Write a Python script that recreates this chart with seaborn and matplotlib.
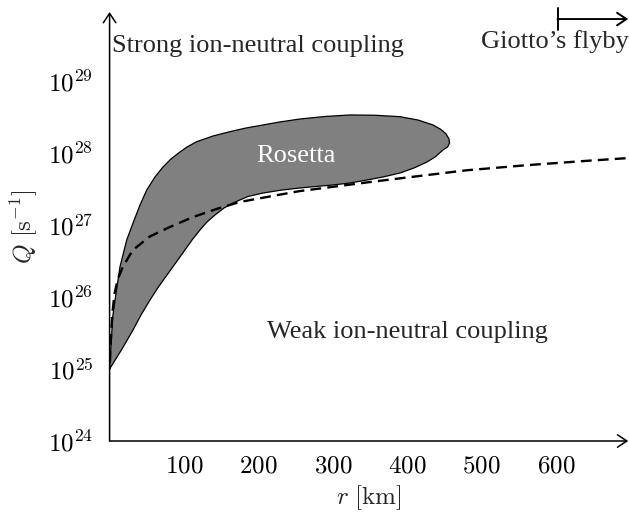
import numpy as np
import matplotlib
matplotlib.use("Agg")
import matplotlib.pyplot as plt
import seaborn as sns

# ---- data (r in km, log10 Q in s^-1) ----
upper_r = [0.0, 1.9, 4.2, 7.3, 14.0, 23.0, 31.5, 40.9, 49.9, 61.0, 71.8, 82.5,
           94.6, 104.0, 117.1, 139.0, 161.8, 183.3, 206.2, 229.0, 255.9,
           289.5, 323.1, 356.7, 390.3, 414.5, 434.7, 445.4, 452.2, 456.2,
           456.9]
upper_logq = [25.000, 25.333, 25.726, 25.958, 26.421, 26.792, 27.028, 27.278,
              27.486, 27.667, 27.806, 27.917, 28.014, 28.083, 28.157, 28.236,
              28.296, 28.347, 28.389, 28.431, 28.472, 28.507, 28.528, 28.524,
              28.504, 28.458, 28.389, 28.326, 28.264, 28.194, 28.139]
lower_r = [454.2, 448.1, 437.4, 426.6, 409.1, 390.3, 367.5, 346.0, 323.1,
           300.3, 277.4, 255.9, 231.7, 206.2, 186.0, 165.9, 153.8, 141.7,
           130.9, 121.5, 110.8, 101.3, 89.2, 77.2, 65.1, 54.3, 42.2, 31.5,
           16.7, 0.0]
lower_logq = [28.083, 28.042, 27.944, 27.875, 27.792, 27.722, 27.667, 27.625,
              27.583, 27.556, 27.535, 27.514, 27.486, 27.444, 27.396, 27.306,
              27.236, 27.139, 27.042, 26.931, 26.792, 26.653, 26.479, 26.306,
              26.132, 25.958, 25.750, 25.542, 25.278, 25.000]

dash_r = [0.5, 1.0, 2.2, 4.0, 6.7, 11.0, 17.9, 31.0, 54.0, 80.6, 112.0, 143.0,
          175.0, 228.0, 255.0, 300.0, 345.0, 400.0, 480.0, 560.0, 640.0, 698.0]
dash_logq = [25.10, 25.25, 25.50, 25.80, 26.05, 26.25, 26.42, 26.65, 26.84,
             26.97, 27.11, 27.22, 27.32, 27.42, 27.47, 27.53, 27.59, 27.66,
             27.76, 27.83, 27.89, 27.93]

x_ticks = [100, 200, 300, 400, 500, 600]
y_tick_exps = [24, 25, 26, 27, 28, 29]
x_tick_labels = [f"${t}$" for t in x_ticks]
y_tick_labels = [f"$10^{{{e}}}$" for e in y_tick_exps]

giotto_r = 602
giotto_logq = 29.86

# ---- style ----
sns.set_style("white")
plt.rcParams["font.family"] = ["Liberation Serif", "DejaVu Serif"]
plt.rcParams["mathtext.fontset"] = "cm"

fig = plt.figure(figsize=(6.29, 5.13), dpi=100)
ax = fig.add_axes([109.6 / 629, 72 / 513, (628.2 - 109.6) / 629, 429 / 513])
ax.set_yscale("log")

poly_r = upper_r + lower_r
poly_q = list(10.0 ** np.array(upper_logq + lower_logq))
ax.fill(poly_r, poly_q, facecolor="#808080", edgecolor="none", zorder=2)
outline_r = poly_r + [poly_r[0]]
outline_q = poly_q + [poly_q[0]]
sns.lineplot(x=outline_r, y=outline_q, sort=False, estimator=None, ax=ax,
             color="black", linewidth=0.9, zorder=3)

sns.lineplot(x=dash_r, y=list(10.0 ** np.array(dash_logq)), sort=False,
             estimator=None, ax=ax, color="black", linewidth=1.7,
             linestyle=(0, (4.6, 2.6)), zorder=4)

ax.set_xlim(0, 697)
ax.set_ylim(1e24, 10 ** 29.958)
ax.set_xticks(x_ticks)
ax.set_xticklabels(x_tick_labels)
ax.set_yticks([10.0 ** e for e in y_tick_exps])
ax.set_yticklabels(y_tick_labels)
ax.yaxis.set_minor_locator(matplotlib.ticker.NullLocator())
ax.xaxis.set_minor_locator(matplotlib.ticker.NullLocator())
ax.tick_params(axis="both", direction="inout", length=7.5, width=0.8,
               color="#9a9a9a", labelsize=18, labelcolor="black")
ax.tick_params(axis="x", pad=7)
ax.tick_params(axis="y", pad=8)
ax.grid(False)

for s in ax.spines.values():
    s.set_visible(False)

arrow_kw = dict(arrowstyle="->,head_length=0.45,head_width=0.3", lw=1.1,
                color="black", shrinkA=0, shrinkB=0, mutation_scale=15)
ax.annotate("", xy=(1, 0), xytext=(0, 0), xycoords="axes fraction",
            textcoords="axes fraction", arrowprops=arrow_kw, annotation_clip=False)
ax.annotate("", xy=(0, 1), xytext=(0, 0), xycoords="axes fraction",
            textcoords="axes fraction", arrowprops=arrow_kw, annotation_clip=False)

# Giotto flyby marker
ax.annotate("", xy=(697, 10 ** giotto_logq), xytext=(giotto_r, 10 ** giotto_logq),
            arrowprops=dict(arrowstyle="->,head_length=0.45,head_width=0.3",
                            lw=1.4, color="black", shrinkA=0, shrinkB=0,
                            mutation_scale=15), annotation_clip=False)
ax.plot([giotto_r, giotto_r], [10 ** 29.71, 10 ** 30.01], color="black",
        lw=1.4, clip_on=False)
ax.text(598, 10 ** 29.46, "Giotto’s flyby", ha="center", va="baseline",
        fontsize=19)

ax.text(3.2, 10 ** 29.40, "Strong ion-neutral coupling", ha="left",
        va="baseline", fontsize=19)
ax.text(400, 10 ** 25.43, "Weak ion-neutral coupling", ha="center",
        va="baseline", fontsize=19)
ax.text(250, 10 ** 27.875, "Rosetta", ha="center", va="baseline",
        fontsize=19, color="white", zorder=5)

ax.set_xlabel(r"$r\ [\mathrm{km}]$", fontsize=18, labelpad=4)
ax.set_ylabel(r"$Q\ [\mathrm{s}^{-1}]$", fontsize=18, labelpad=6)

fig.savefig("out.png", dpi=100)
